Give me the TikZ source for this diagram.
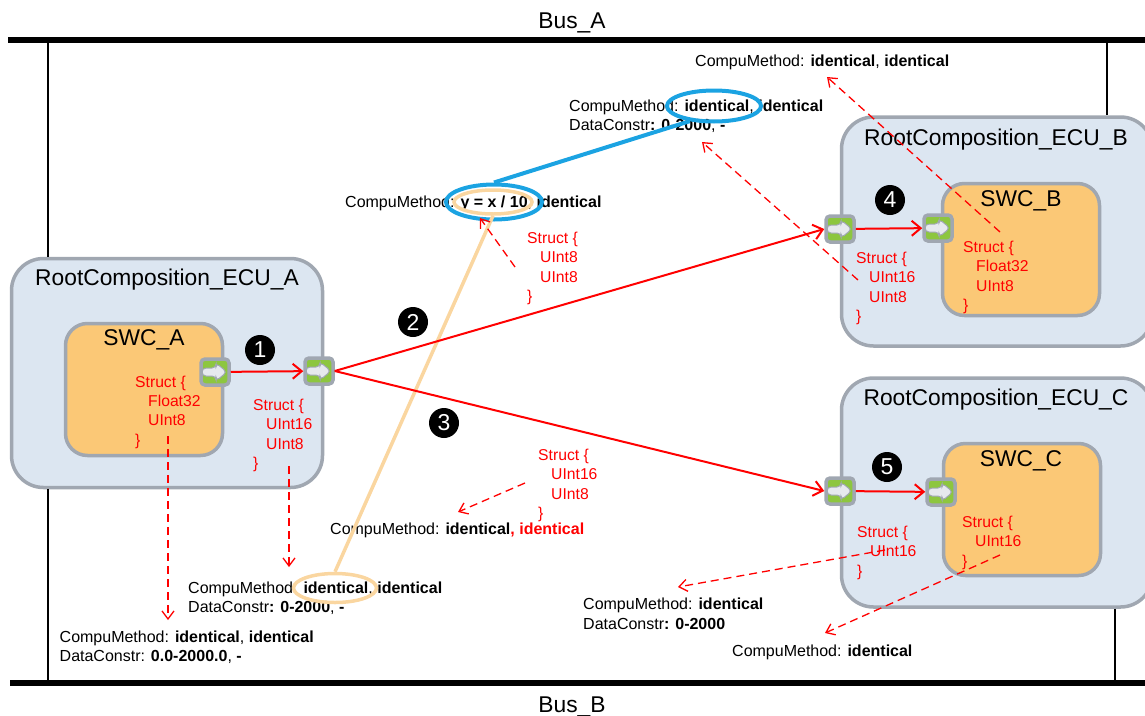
\documentclass[tikz,border=0pt]{standalone}
\usepackage{fontspec}
\setmainfont{Liberation Sans}
\usepackage{xcolor}
\usepackage{tikz}
\usetikzlibrary{positioning, arrows.meta, shapes.geometric}

\definecolor{ecufill}{RGB}{220,230,241}
\definecolor{boxgray}{RGB}{160,167,177}
\definecolor{swcfill}{RGB}{251,200,118}
\definecolor{portgreen}{RGB}{141,198,63}
\definecolor{arrowfill}{RGB}{230,233,238}
\definecolor{linkblue}{RGB}{27,163,226}
\definecolor{linkorange}{RGB}{250,214,160}

\newcommand{\ind}{\hspace*{13pt}}

\begin{document}
\begin{tikzpicture}[x=1pt, y=-1pt,
    ecu/.style={rectangle, draw=boxgray, line width=3.5pt, fill=ecufill, rounded corners=32pt, minimum width=311pt, minimum height=229pt},
    swc/.style={rectangle, draw=boxgray, line width=3.5pt, fill=swcfill, rounded corners=22pt, minimum width=157pt, minimum height=132pt},
    port/.style={rectangle, draw=boxgray, line width=3.5pt, fill=portgreen, rounded corners=4pt, minimum width=28pt, minimum height=26pt, inner sep=0,
        path picture={\draw[boxgray, fill=arrowfill, line width=1pt, shift={(path picture bounding box.center)}]
            (-13,-4) -- (1,-4) -- (1,-9) -- (12,0) -- (1,9) -- (1,4) -- (-13,4) -- cycle;}},
    title/.style={anchor=base, font=\fontsize{22.8}{27}\selectfont},
    struct/.style={anchor=base west, align=left, inner sep=0, text=red, font=\fontsize{15.7}{19.4}\selectfont},
    method/.style={anchor=base west, align=left, inner sep=0, font=\fontsize{16}{19.6}\selectfont},
    num/.style={circle, fill=black, text=white, minimum size=30pt, inner sep=0, font=\fontsize{23}{23}\selectfont},
    bus/.style={line width=6pt},
    drop/.style={line width=2pt},
    link/.style={red, line width=2pt, -{Straight Barb[length=9pt, width=15pt]}},
    ref/.style={red, line width=1.3pt, dash pattern=on 8pt off 5pt, -{Straight Barb[length=8pt, width=12pt]}},
    ring/.style={ellipse, inner sep=0, line width=4pt}
]

\useasboundingbox (0,0) rectangle (1145,715);

\node[title] (busAname) at (572,28) {Bus\_A};
\node[title] (busBname) at (572,712) {Bus\_B};
\coordinate (busA0) at (8,40);
\coordinate (busA1) at (1145,40);
\coordinate (busB0) at (10,683);
\coordinate (busB1) at (1145,683);
\coordinate (busL) at (48,40);
\coordinate (busR) at (1107,40);
\coordinate (busR2) at (1115,683);

\node[ecu] (ecuA) at (167,373) {};
\node[ecu] (ecuB) at (997,231.5) {};
\node[ecu] (ecuC) at (997,492.5) {};

\draw[bus] (busA0) -- (busA1);
\draw[bus] (busB0) -- (busB1);
\draw[drop] (busL) -- (busL |- ecuA.north);
\draw[drop] (busL |- ecuA.south) -- (busL |- busB0);
\draw[drop] (busR) -- (busR |- ecuB.north);
\draw[drop] (busR2 |- ecuC.south) -- (busR2);

\node[swc] (swcA) at (144,389.5) {};
\node[swc] (swcB) at (1021,249.5) {};
\node[swc] (swcC) at (1022,509.5) {};

\node[title] (ecuAname) at (167,285) {RootComposition\_ECU\_A};
\node[title] (ecuBname) at (996,145) {RootComposition\_ECU\_B};
\node[title] (ecuCname) at (996,405) {RootComposition\_ECU\_C};
\node[title] (swcAname) at (144,345) {SWC\_A};
\node[title] (swcBname) at (1021,206) {SWC\_B};
\node[title] (swcCname) at (1021,466.5) {SWC\_C};

\node[port] (pSwcA) at (215,372) {};
\node[port] (pEcuA) at (319,371) {};
\node[port] (pEcuB) at (840,229) {};
\node[port] (pSwcB) at (938,228) {};
\node[port] (pEcuC) at (840,491) {};
\node[port] (pSwcC) at (941,492) {};

\node[struct] (sSwcA) at (135,445.2) {Struct \{\\\ind Float32\\\ind UInt8\\\}};
\node[struct] (sEcuA) at (253,468.7) {Struct \{\\\ind UInt16\\\ind UInt8\\\}};
\node[struct] (sYx) at (527,301.7) {Struct \{\\\ind UInt8\\\ind UInt8\\\}};
\node[struct] (sMid) at (538,518.7) {Struct \{\\\ind UInt16\\\ind UInt8\\\}};
\node[struct] (sEcuB) at (856,321.7) {Struct \{\\\ind UInt16\\\ind UInt8\\\}};
\node[struct] (sSwcB) at (963,310.7) {Struct \{\\\ind Float32\\\ind UInt8\\\}};
\node[struct] (sEcuC) at (857,576.3) {Struct \{\\\ind UInt16\\\}};
\node[struct] (sSwcC) at (962,566.3) {Struct \{\\\ind UInt16\\\}};

\node[method] (mTop) at (695,66) {CompuMethod: \textbf{identical}, \textbf{identical}};
\node[method] (mUp) at (569,130.6) {CompuMethod: \textbf{identical}, \textbf{identical}\\DataConstr\textbf{: 0-2000}, \textbf{-}};
\node[method] (mYx) at (345,207.5) {CompuMethod: \textbf{y = x / 10}, \textbf{identical}};
\node[method] (mMid) at (330,534) {CompuMethod: \textbf{identical}\textcolor{red}{\textbf{, identical}}};
\node[method] (mLow) at (188,612.6) {CompuMethod: \textbf{identical}, \textbf{identical}\\DataConstr\textbf{: 0-2000}, \textbf{-}};
\node[method] (mBot) at (59.5,661.6) {CompuMethod: \textbf{identical}, \textbf{identical}\\DataConstr: \textbf{0.0-2000.0}, \textbf{-}};
\node[method] (mEcuC) at (583,629.1) {CompuMethod: \textbf{identical}\\DataConstr\textbf{: 0-2000}};
\node[method] (mSwcC) at (732,656) {CompuMethod: \textbf{identical}};

\node[ring, draw=linkorange, line width=3.5pt, minimum width=83pt, minimum height=29pt] (eLow) at (335,588) {};
\node[ring, draw=linkorange, line width=3.5pt, minimum width=78pt, minimum height=24pt] (eYx) at (493,202) {};
\node[ring, draw=linkblue, minimum width=96pt, minimum height=35pt] (eYxB) at (494,202) {};
\node[ring, draw=linkblue, minimum width=94pt, minimum height=31pt] (eUp) at (714,106) {};

\draw[linkorange, line width=3.5pt] (eLow.north) -- (eYx.south);
\draw[linkblue, line width=4pt] (eYxB.north) -- (eUp.-148);

\draw[link] (pSwcA) -- (pEcuA);
\draw[link] (pEcuA.east) -- (pEcuB.west);
\draw[link] (pEcuA.east) -- (pEcuC.west);
\draw[link] (pEcuB) -- (pSwcB);
\draw[link] (pEcuC) -- (pSwcC);

\node[num] (n1) at (260,350) {1};
\node[num] (n2) at (413,322) {2};
\node[num] (n3) at (444,423) {3};
\node[num] (n4) at (890,200) {4};
\node[num] (n5) at (887,467) {5};

\coordinate (tSwcA) at (168,436);
\coordinate (hSwcA) at (168,620);
\coordinate (tEcuA) at (289,466);
\coordinate (hEcuA) at (289,567);
\coordinate (tYx) at (515,267);
\coordinate (hYx) at (480,218);
\coordinate (tMid) at (525,483);
\coordinate (hMid) at (458,512);
\coordinate (tSwcB) at (1000,232);
\coordinate (hSwcB) at (827,77);
\coordinate (tEcuB) at (858,280);
\coordinate (hEcuB) at (702,142);
\coordinate (tEcuC) at (885,550);
\coordinate (hEcuC) at (678,587);
\coordinate (tSwcC) at (1000,555);
\coordinate (hSwcC) at (825,633);

\draw[ref] (tSwcA) -- (hSwcA);
\draw[ref] (tEcuA) -- (hEcuA);
\draw[ref] (tYx) -- (hYx);
\draw[ref] (tMid) -- (hMid);
\draw[ref] (tSwcB) -- (hSwcB);
\draw[ref] (tEcuB) -- (hEcuB);
\draw[ref] (tEcuC) -- (hEcuC);
\draw[ref] (tSwcC) -- (hSwcC);

\end{tikzpicture}
\end{document}
